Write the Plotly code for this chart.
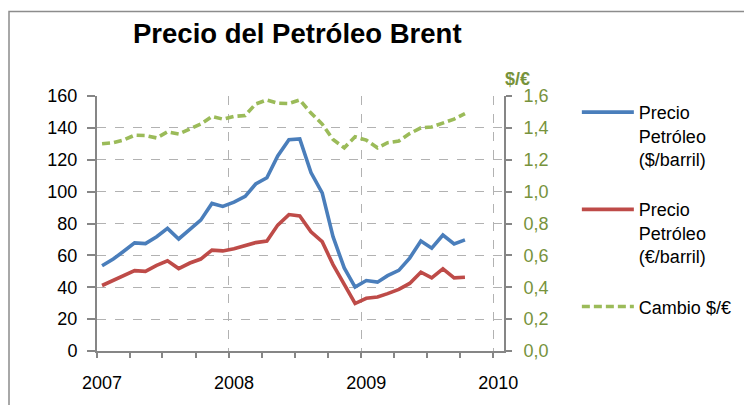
import plotly.graph_objects as go

months = ["2007-01-15", "2007-02-15", "2007-03-15", "2007-04-15", "2007-05-15", "2007-06-15",
          "2007-07-15", "2007-08-15", "2007-09-15", "2007-10-15", "2007-11-15", "2007-12-15",
          "2008-01-15", "2008-02-15", "2008-03-15", "2008-04-15", "2008-05-15", "2008-06-15",
          "2008-07-15", "2008-08-15", "2008-09-15", "2008-10-15", "2008-11-15", "2008-12-15",
          "2009-01-15", "2009-02-15", "2009-03-15", "2009-04-15", "2009-05-15", "2009-06-15",
          "2009-07-15", "2009-08-15", "2009-09-15", "2009-10-15"]

precio_usd = [53.5, 57.7, 62.4, 67.8, 67.4, 71.7, 76.9, 70.3, 76.3, 82.1, 92.6, 90.7,
              93.4, 97.0, 104.8, 108.7, 122.4, 132.5, 133.1, 112.0, 99.2, 71.7, 52.1, 40.1,
              44.2, 43.2, 47.3, 50.6, 58.3, 69.0, 64.5, 72.8, 67.2, 69.7]

precio_eur = [41.1, 44.2, 47.5, 50.4, 50.0, 53.7, 56.6, 51.7, 55.2, 57.7, 63.3, 62.8,
              64.1, 66.2, 68.0, 69.0, 79.0, 85.6, 84.8, 74.8, 68.6, 54.2, 41.8, 29.8,
              33.1, 33.9, 36.0, 38.7, 42.4, 49.4, 45.9, 51.5, 45.9, 46.3]

cambio = [1.300, 1.307, 1.323, 1.354, 1.352, 1.337, 1.375, 1.362, 1.393, 1.424, 1.472, 1.455,
          1.472, 1.478, 1.550, 1.575, 1.555, 1.553, 1.575, 1.493, 1.424, 1.327, 1.275, 1.344,
          1.323, 1.275, 1.307, 1.317, 1.364, 1.400, 1.406, 1.431, 1.455, 1.490]

year_ticks = ["2007-01-01", "2008-01-01", "2009-01-01", "2010-01-01"]
year_labels = ["2007", "2008", "2009", "2010"]

FONT = "Liberation Sans, Arial, sans-serif"
BLUE = "#4A7EBB"
RED = "#BE4B48"
GREEN = "#9BBB59"
AXGREEN = "#77933C"
AXIS = "#868686"
GRID = "#B2B2B2"

# the page body adds an 8px offset, so the figure is 8px smaller than the window
W, H = 744, 397
OFF = 8

fig = go.Figure()
fig.add_trace(go.Scatter(x=months, y=precio_usd, mode="lines", name="Precio<br>Petróleo<br>($/barril)",
                         line=dict(color=BLUE, width=3.6), legendgroup="a"))
fig.add_trace(go.Scatter(x=months, y=precio_eur, mode="lines", name="Precio<br>Petróleo<br>(€/barril)",
                         line=dict(color=RED, width=3.6), legendgroup="b"))
fig.add_trace(go.Scatter(x=months, y=cambio, mode="lines", name="Cambio $/€", yaxis="y2",
                         line=dict(color=GREEN, width=3.6, dash="8px,4px"), legendgroup="c"))

fig.update_layout(
    width=W, height=H,
    margin=dict(l=97 - OFF, r=W - (504 - OFF), t=96 - OFF, b=H - (354 - OFF)),
    paper_bgcolor="white", plot_bgcolor="white",
    separators=",.",
    font=dict(family=FONT, size=18, color="black"),
    showlegend=True,
    title=dict(text="<b>Precio del Petróleo Brent</b>", font=dict(family=FONT, size=27.5, color="black"),
               xref="container", yref="container", x=(133 - OFF) / W, xanchor="left",
               y=1 - (24 - OFF) / H, yanchor="top"),
    legend=dict(x=1.179, xanchor="left", y=1.008, yanchor="top", font=dict(family=FONT, size=18),
                tracegroupgap=24, valign="top", itemwidth=52, bgcolor="rgba(0,0,0,0)",
                maxheight=380),
    xaxis=dict(type="date", range=["2007-01-01", "2010-01-31"],
               tickvals=year_ticks, ticktext=year_labels,
               ticks="outside", ticklen=5, tickcolor=AXIS, tickwidth=1.5,
               showline=True, linecolor=AXIS, linewidth=2,
               showgrid=True, gridcolor=GRID, griddash="dash", gridwidth=1,
               ticklabelshift=5, ticklabelstandoff=9,
               minor=dict(ticks="outside", dtick="M3", tick0="2007-01-01", ticklen=5,
                          tickcolor=AXIS, tickwidth=1.5, showgrid=False),
               tickfont=dict(size=18, color="black"), zeroline=False, fixedrange=True),
    yaxis=dict(range=[0, 160], dtick=20, ticks="outside", ticklen=8, tickcolor=AXIS, tickwidth=1.5,
               showline=True, linecolor=AXIS, linewidth=2,
               showgrid=True, gridcolor=GRID, griddash="dash", gridwidth=1,
               ticklabelstandoff=6,
               zeroline=False, tickfont=dict(size=18, color="black")),
    yaxis2=dict(range=[0, 1.6], dtick=0.2, tickformat=".1f", overlaying="y", side="right",
                ticks="outside", ticklen=6, tickcolor=AXIS, tickwidth=1.5,
                showline=True, linecolor=AXIS, linewidth=2, showgrid=False, zeroline=False,
                ticklabelstandoff=8,
                tickfont=dict(size=18, color=AXGREEN)),
)

fig.add_annotation(text="<b>$/€</b>", xref="paper", yref="paper", x=(532 - 97) / 407, y=(354 - 67) / 258,
                   showarrow=False, font=dict(family=FONT, size=18, color=AXGREEN))

# outer chart frame
fig.add_shape(type="rect", xref="paper", yref="paper",
              x0=(9 - 97) / 407, x1=(790 - 97) / 407,
              y0=(354 - 440) / 258, y1=(354 - 10.5) / 258,
              line=dict(color="#8C8C8C", width=1.5), fillcolor="rgba(0,0,0,0)", layer="below")

fig.write_html("out.html")
